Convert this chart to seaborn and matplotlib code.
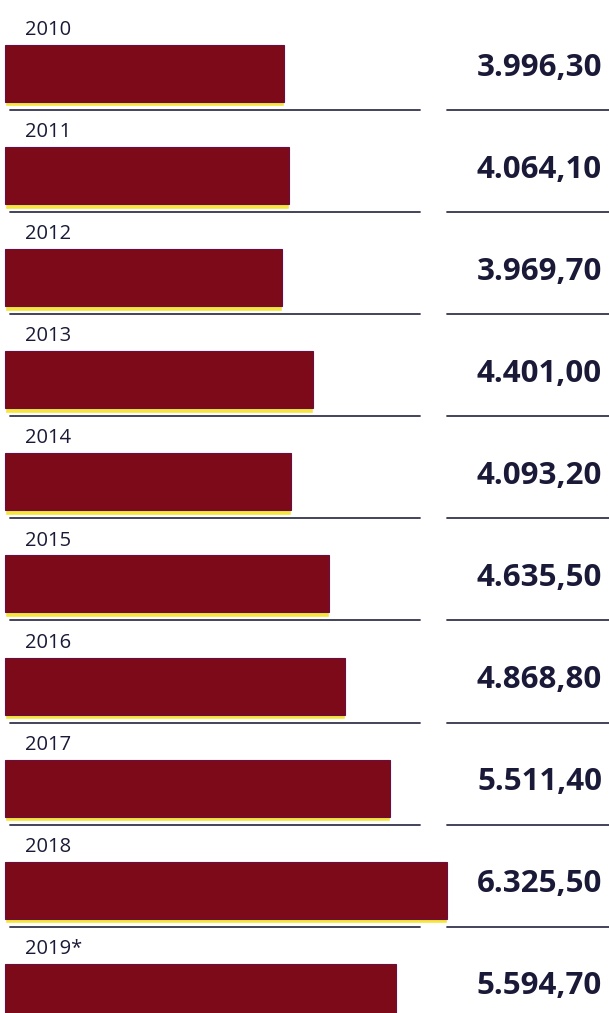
import matplotlib.pyplot as plt
import numpy as np
import pandas as pd
import seaborn as sns

# datos
years = ['2010', '2011', '2012', '2013', '2014', '2015', '2016', '2017', '2018', '2019*']
values = [3996.30, 4064.10, 3969.70, 4401.00, 4093.20, 4635.50, 4868.80, 5511.40, 6325.50, 5594.70]
value_labels = ['3.996,30', '4.064,10', '3.969,70', '4.401,00', '4.093,20',
                '4.635,50', '4.868,80', '5.511,40', '6.325,50', '5.594,70']

df = pd.DataFrame({'year': years, 'value': values})

sns.set_style('white')
plt.rcParams['font.family'] = ['Open Sans', 'DejaVu Sans']

W, H = 609, 1013
pitch = 102.1       # px entre filas
px_unit = 0.07      # px por unidad de valor
x0 = 4.5            # px donde empieza la barra

fig = plt.figure(figsize=(W / 100, H / 100), dpi=100)
ax = fig.add_axes([0, 0, 1, 1])

bar_h = 57 / pitch
n = len(years)

# sombra amarilla bajo cada barra
ax.barh(np.arange(n) + 4.5 / pitch, values, height=bar_h, color='#f5e63c', zorder=1)

sns.barplot(data=df, x='value', y='year', orient='h', width=bar_h,
            color='#7c0a19', edgecolor='#6a0d40', linewidth=0.8,
            saturation=1, ax=ax, zorder=2)

ax.set_xlim(-x0 / px_unit, (W - x0) / px_unit)
top = -73.5 / pitch
ax.set_ylim(top + H / pitch, top)
ax.axis('off')

tr = ax.get_yaxis_transform()
text_col = '#1a1a38'
line_col = '#34344c'
for i in range(n):
    ax.text(25 / W, i - 43.5 / pitch, years[i], transform=tr, ha='left', va='center',
            fontsize=14.5, color=text_col)
    ax.text(602 / W, i - 6 / pitch, value_labels[i], transform=tr, ha='right', va='center',
            fontsize=22.5, fontweight='bold', color=text_col)
    ly = i + 36.5 / pitch
    ax.plot([10 / W, 420 / W], [ly, ly], transform=tr, color=line_col, lw=1.3, zorder=0)
    ax.plot([447 / W, 1], [ly, ly], transform=tr, color=line_col, lw=1.3, zorder=0)

fig.savefig('out.png', dpi=100, facecolor='white')
